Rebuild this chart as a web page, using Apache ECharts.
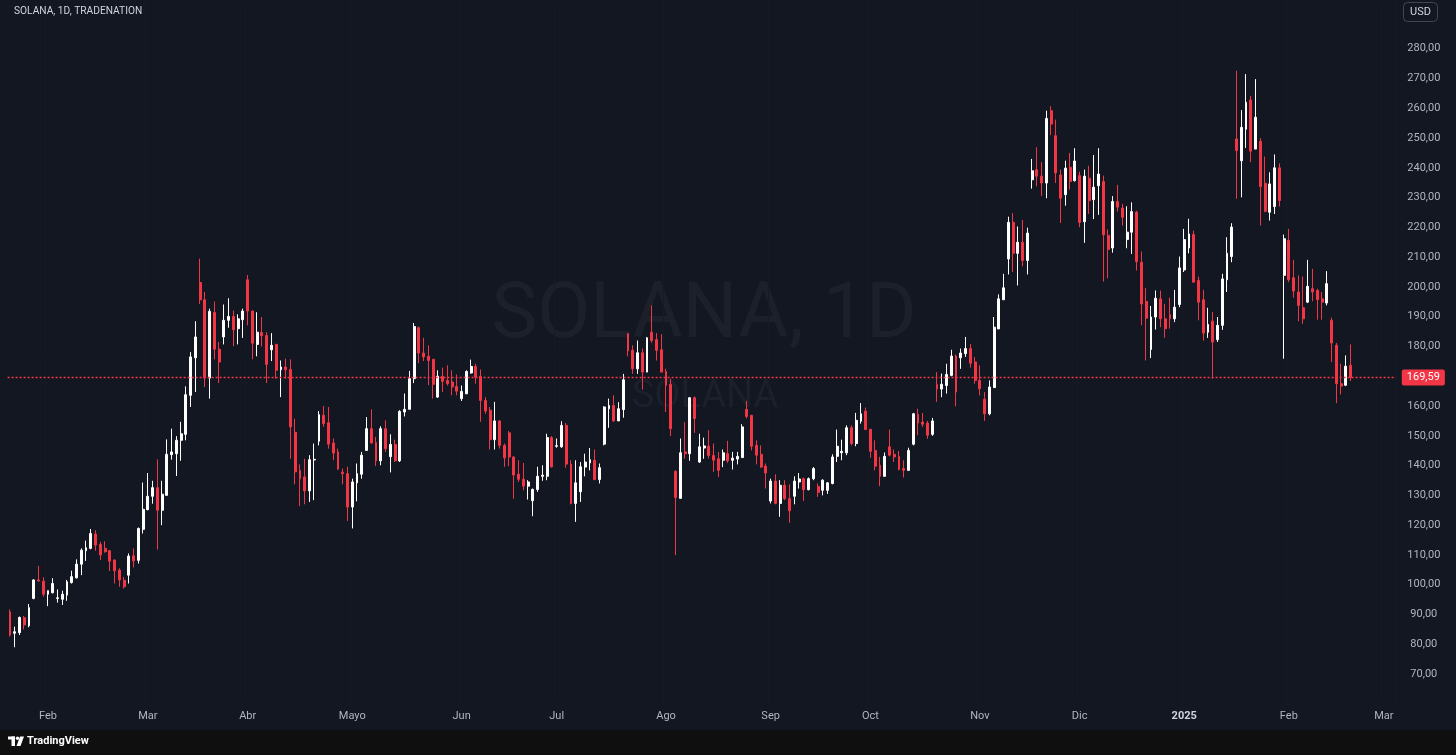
<!DOCTYPE html>
<html><head><meta charset="utf-8">
<script src="https://cdn.jsdelivr.net/npm/echarts/dist/echarts.min.js"></script>
<style>html,body{margin:0;padding:0;background:#131722;overflow:hidden}#c{width:1456px;height:755px}</style>
</head><body><div id="c"></div>
<script>
// ---- data (daily candles, weekdays only) ----
const startDate = '2024-01-22';
const closedDays = ['2025-01-01'];
const futureBars = 9;
const monthNames = ['Ene','Feb','Mar','Abr','Mayo','Jun','Jul','Ago','Sep','Oct','Nov','Dic'];
const priceTicks = [70,80,90,100,110,120,130,140,150,160,170,180,190,200,210,220,230,240,250,260,270,280];
const lastPrice = 169.59;

const opens = [90.9,83.7,83.9,88.9,86.2,95.4,101.6,101.2,96.8,97.3,
95.4,95.1,96.5,100.7,102.3,106.9,111.4,112.2,117.0,113.5,
112.2,111.4,108.3,104.9,101.5,103.2,109.7,108.2,118.6,125.2,
129.7,132.6,125.0,130.0,143.7,144.0,148.5,150.5,163.6,176.2,
201.5,195.7,169.4,191.4,179.1,183.2,188.8,190.1,186.0,189.0,
202.4,191.9,180.7,184.7,183.7,178.9,180.7,172.2,173.1,172.3,
151.2,138.4,136.2,131.5,141.9,148.2,156.9,154.4,147.6,144.6,
137.8,137.3,126.1,134.2,137.1,145.1,152.4,147.7,141.6,152.4,
143.0,147.1,141.6,158.0,158.9,169.2,186.3,177.8,176.7,175.7,
163.0,170.0,168.6,168.1,166.6,162.5,164.1,171.1,173.3,170.0,
161.9,158.6,148.7,155.0,146.8,151.0,142.9,137.1,135.4,133.1,
128.2,132.0,136.4,136.4,149.4,146.5,146.3,153.5,140.5,127.3,
131.2,139.5,140.9,141.8,135.3,147.2,159.1,160.2,155.0,158.8,
184.3,178.7,172.5,177.9,171.4,184.8,182.3,178.9,171.6,167.3,
138.1,129.0,144.6,144.0,162.8,141.2,145.9,146.5,143.4,142.3,
141.8,144.0,141.8,142.2,142.7,158.9,156.9,146.8,143.8,139.8,
128.1,134.8,127.3,133.4,128.9,129.7,134.5,135.6,131.9,135.6,
133.0,131.7,131.7,134.0,143.1,144.3,144.3,152.7,147.4,154.9,
158.3,152.2,145.1,140.1,136.4,146.3,143.8,143.1,139.0,138.4,
147.2,157.2,154.6,154.3,150.5,167.2,165.7,166.9,170.3,176.8,
176.2,177.6,179.3,174.8,168.6,162.3,157.4,166.2,185.9,195.7,
209.4,221.7,211.3,215.0,208.9,236.0,239.4,237.2,234.9,259.2,
250.8,237.6,231.0,240.2,235.7,237.4,221.9,236.5,229.3,234.0,
235.4,217.3,213.1,228.7,226.5,215.9,218.4,225.1,208.3,195.1,
179.0,189.9,196.0,189.3,190.7,189.3,194.1,205.7,213.1,217.6,
202.2,195.7,184.8,188.5,182.3,187.1,202.4,210.2,249.7,242.4,
253.0,262.8,246.3,248.9,234.8,225.1,227.0,240.0,203.9,215.6,
203.1,198.3,193.0,194.9,199.4,198.8,196.0,194.6,188.8,180.4,
167.5,167.0,173.7];

const closes = [83.1,84.2,89.0,86.5,92.3,101.6,101.3,96.8,98.0,100.4,
95.6,96.8,101.0,102.7,106.9,111.6,112.4,117.2,113.3,110.0,
111.1,107.9,104.7,101.6,99.3,109.6,108.0,118.9,125.3,129.7,
132.6,125.0,130.4,143.8,144.6,148.5,150.7,163.8,176.5,183.2,
195.7,169.4,191.8,179.1,174.8,188.8,190.1,185.6,189.3,191.9,
191.9,181.1,184.8,183.6,174.0,180.4,172.0,173.1,172.2,153.0,
137.9,135.6,131.5,142.0,142.1,157.1,154.1,147.2,144.2,138.8,
137.3,126.1,134.5,137.3,143.5,152.4,147.6,141.6,152.4,145.7,
147.1,141.6,158.2,158.9,169.2,186.7,177.8,176.5,175.3,167.3,
170.0,168.3,167.5,166.4,165.0,164.9,171.6,173.3,169.7,161.9,
158.3,148.7,155.0,146.8,142.6,142.9,136.8,135.4,133.1,134.5,
132.0,136.4,136.8,149.4,139.6,146.7,153.5,140.5,127.3,134.2,
139.6,141.2,142.0,135.3,139.3,159.7,160.2,155.0,159.1,168.8,
178.5,172.5,177.9,171.4,182.9,182.0,178.7,171.4,166.9,152.4,
129.3,144.3,144.0,162.8,155.8,146.3,146.6,143.4,141.8,138.4,
144.3,141.6,142.5,143.1,153.0,156.5,146.5,143.5,139.5,137.5,
134.8,127.3,133.4,128.9,124.8,134.8,135.5,131.9,135.6,139.0,
131.0,135.1,134.2,142.9,146.5,144.8,152.7,147.4,155.2,157.4,
152.1,144.8,139.8,136.4,143.1,143.5,142.9,138.7,138.4,145.1,
157.4,154.3,153.9,150.2,155.0,165.8,167.3,170.6,176.8,164.7,
177.8,179.3,174.4,168.6,165.8,157.4,166.4,186.5,196.0,199.7,
221.7,211.3,215.0,208.9,218.1,239.0,237.2,234.9,256.6,254.7,
238.3,229.8,239.9,235.4,242.3,221.7,237.2,229.0,233.5,237.9,
217.5,212.6,228.7,226.8,223.4,218.4,225.3,208.5,194.3,189.5,
189.9,196.2,189.3,186.0,189.3,193.2,206.4,215.9,217.8,201.6,
194.9,184.5,187.4,181.5,187.1,202.7,211.3,220.1,245.8,253.6,
262.0,245.6,257.0,233.7,225.4,234.6,240.0,229.0,216.2,202.4,
198.6,193.8,189.3,200.2,198.3,195.7,194.9,201.1,181.2,167.5,
166.7,173.4,169.59];

const lows = [82.6,79.0,83.1,85.0,85.7,95.1,101.0,96.0,92.8,97.1,
94.0,93.2,94.6,100.4,102.1,103.2,108.0,111.9,111.4,108.3,
110.7,104.6,100.4,99.3,98.7,100.4,105.8,107.1,117.2,125.0,
127.2,111.8,120.0,130.0,142.0,136.5,141.6,148.5,159.7,164.7,
194.3,166.4,162.5,175.7,167.7,180.7,186.3,180.1,180.7,182.9,
187.1,175.7,176.7,180.0,167.7,175.1,169.2,163.0,169.2,142.3,
133.7,126.4,127.0,127.8,128.4,146.8,153.0,145.7,141.8,138.6,
133.7,121.4,118.9,128.0,135.6,145.1,147.4,139.9,140.1,144.6,
137.7,141.2,141.2,156.5,158.9,167.7,174.4,175.1,167.0,162.5,
162.8,164.7,166.9,163.6,163.6,161.7,164.1,170.9,167.5,154.7,
157.4,145.4,145.4,145.7,139.6,139.8,128.9,134.5,131.7,128.6,
123.0,131.2,134.9,135.1,139.3,146.0,146.0,139.3,127.0,121.1,
127.8,136.4,138.4,135.1,134.0,146.8,152.7,154.7,155.0,156.1,
176.7,170.8,170.8,165.5,171.4,181.2,175.3,171.4,158.0,149.9,
109.9,129.0,142.3,141.6,151.0,140.9,142.3,142.4,137.9,136.2,
139.5,140.9,138.7,140.4,142.7,155.8,145.1,140.4,139.3,132.3,
127.3,127.0,122.8,128.4,120.8,127.0,132.3,128.1,131.7,135.1,
129.5,130.0,130.5,133.7,141.2,141.8,143.5,146.8,146.5,154.1,
152.1,142.6,138.4,133.1,136.2,143.1,141.2,138.4,136.0,138.4,
146.8,150.2,153.0,149.0,150.0,161.4,163.0,164.2,170.0,159.9,
172.5,176.5,172.9,167.5,163.6,155.0,156.9,166.2,185.9,195.7,
204.2,205.0,200.5,206.9,204.2,233.0,233.8,230.5,229.8,251.0,
234.9,221.5,227.3,232.7,235.4,220.1,214.8,224.5,222.8,224.2,
201.8,202.9,211.5,225.3,220.6,213.0,211.1,205.5,187.1,175.3,
176.1,185.7,186.5,182.9,186.0,188.2,193.2,205.0,211.3,201.6,
188.8,182.0,182.9,169.2,181.5,185.6,198.3,208.3,229.6,230.1,
246.7,241.9,246.3,220.6,225.1,222.3,224.5,227.0,175.9,201.6,
196.4,188.5,187.6,194.6,195.2,189.0,189.0,193.8,174.8,161.0,
163.9,166.7,168.4];

const highs = [91.7,85.9,89.3,89.5,93.5,101.8,106.3,102.5,98.0,102.2,
98.4,98.0,101.6,104.7,108.5,112.2,114.8,118.7,118.3,114.4,
114.6,111.6,108.5,105.5,102.6,110.5,112.2,119.2,134.3,137.5,
134.9,142.1,134.9,148.8,152.4,149.9,154.7,166.6,178.1,188.5,
209.5,198.3,192.7,195.1,181.5,194.1,196.2,192.1,190.8,192.7,
204.0,192.1,191.5,189.9,184.8,184.5,180.9,175.3,175.9,175.7,
155.8,140.4,142.3,143.5,147.4,158.3,160.0,159.7,149.1,145.7,
139.0,139.6,135.6,140.7,144.6,156.3,158.9,149.6,153.2,155.2,
150.5,148.7,158.6,164.2,171.8,187.9,186.7,182.9,180.4,175.7,
172.0,172.9,173.7,172.0,170.6,166.9,172.0,175.6,174.2,172.3,
163.0,159.7,161.4,155.2,147.4,151.6,143.1,141.8,140.9,135.1,
132.3,139.6,140.1,150.7,149.9,149.1,154.9,154.3,141.8,141.8,
141.2,144.0,145.9,145.4,140.7,159.9,162.5,163.6,161.3,170.8,
184.5,180.4,182.0,179.3,183.2,193.8,184.5,184.1,172.5,169.2,
138.4,149.1,154.6,163.0,163.2,150.7,149.4,151.9,147.4,144.6,
145.4,148.3,144.6,144.6,153.9,161.7,156.9,148.5,146.8,140.7,
135.6,137.1,135.1,135.1,133.7,136.4,137.5,136.0,136.0,139.5,
134.0,135.4,134.5,143.8,152.1,148.7,153.5,153.5,157.7,161.0,
159.5,152.2,148.5,142.9,144.4,152.1,145.4,144.9,141.8,146.0,
157.7,159.1,157.7,155.0,156.0,171.4,170.9,174.2,178.9,177.3,
179.3,183.2,180.9,176.5,173.7,164.7,168.6,189.9,197.5,204.4,
223.6,224.8,220.3,222.5,219.9,243.0,246.9,241.9,259.2,260.7,
256.2,239.4,242.4,245.0,246.6,238.7,239.4,240.7,244.3,246.6,
237.4,219.3,230.5,234.3,227.9,227.1,228.4,225.6,211.9,199.6,
193.6,198.8,198.8,194.3,196.4,199.0,210.2,219.5,222.9,218.9,
203.5,199.0,193.0,191.6,189.9,204.4,216.7,221.4,272.6,259.4,
271.5,264.2,269.8,250.0,243.8,238.5,244.5,241.5,217.6,219.5,
209.1,203.9,203.5,209.1,206.1,199.4,198.3,205.3,189.7,181.2,
174.2,177.0,180.7];

// ---- build categories (trading weekdays) ----
const N = opens.length;
const dates = [];
(function(){
  const p = startDate.split('-').map(Number);
  const d = new Date(Date.UTC(p[0], p[1]-1, p[2]));
  while (dates.length < N + futureBars) {
    const wd = d.getUTCDay();
    const s = d.toISOString().slice(0,10);
    if (wd !== 0 && wd !== 6 && closedDays.indexOf(s) < 0) dates.push(s);
    d.setUTCDate(d.getUTCDate() + 1);
  }
})();
const candleData = opens.map((o,i) => [o, closes[i], lows[i], highs[i]]);
function isMonthStart(i){ return i > 0 && dates[i].slice(0,7) !== dates[i-1].slice(0,7); }
const fmt = v => v.toFixed(2).replace('.', ',');

const UI = 'Roboto, "Noto Sans", "DejaVu Sans", sans-serif';
const chart = echarts.init(document.getElementById('c'), null, {renderer:'canvas'});
chart.setOption({
  animation: false,
  backgroundColor: '#131722',
  textStyle: {fontFamily: UI},
  grid: {left: 7.6, right: 60.2, top: 1.1, bottom: 51.2, containLabel: false},
  xAxis: {
    type: 'category', data: dates, boundaryGap: true,
    axisLine: {show: false}, axisTick: {show: false},
    axisLabel: {
      interval: (i) => isMonthStart(i), color: '#b2b5be', fontSize: 11, margin: 7, fontFamily: UI,
      formatter: (v) => { const m = +v.slice(5,7); return m === 1 ? '{y|' + v.slice(0,4) + '}' : monthNames[m-1]; },
      rich: {y: {fontWeight: 'bold', color: '#d1d4dc', fontSize: 11, fontFamily: UI}}
    },
    splitLine: {show: true, interval: (i) => isMonthStart(i), lineStyle: {color: '#161a25', width: 1}}
  },
  yAxis: {
    type: 'value', position: 'right', min: 60, max: 296, interval: 10,
    axisLine: {show: false}, axisTick: {show: false},
    axisLabel: {color: '#b2b5be', fontSize: 11, margin: 28, align: 'center', fontFamily: UI,
      formatter: (v) => priceTicks.indexOf(Math.round(v)) >= 0 && Math.abs(v - Math.round(v)) < 1e-6 ? fmt(v) : ''},
    splitLine: {show: false}
  },
  graphic: [
    {type: 'text', z: -10, silent: true, style: {x: 704, y: 318, text: 'SOLANA, 1D', fill: '#1c202b', font: '77px ' + UI, textAlign: 'center', textVerticalAlign: 'middle'}},
    {type: 'text', z: -10, silent: true, style: {x: 705, y: 397, text: 'SOLANA', fill: '#1c202b', font: '38px ' + UI, textAlign: 'center', textVerticalAlign: 'middle'}},
    {type: 'text', z: 10, silent: true, style: {x: 14, y: 11, text: 'SOLANA, 1D, TRADENATION', fill: '#d1d4dc', font: '10.2px ' + UI, textVerticalAlign: 'middle'}},
    {type: 'rect', z: 10, silent: true, shape: {x: 1403.5, y: 2.5, width: 34, height: 19, r: 4}, style: {fill: '#131722', stroke: '#434651', lineWidth: 1}},
    {type: 'text', z: 11, silent: true, style: {x: 1420.5, y: 12, text: 'USD', fill: '#d1d4dc', font: '11px ' + UI, textAlign: 'center', textVerticalAlign: 'middle'}},
    {type: 'rect', z: 10, silent: true, shape: {x: 0, y: 730, width: 1456, height: 25}, style: {fill: '#0f0f0f'}},
    {type: 'rect', z: 11, silent: true, shape: {x: 8, y: 736.5, width: 7, height: 3}, style: {fill: '#ffffff'}},
    {type: 'rect', z: 11, silent: true, shape: {x: 11.5, y: 736.5, width: 3.5, height: 9.5}, style: {fill: '#ffffff'}},
    {type: 'circle', z: 11, silent: true, shape: {cx: 17.5, cy: 738.3, r: 1.7}, style: {fill: '#ffffff'}},
    {type: 'polygon', z: 11, silent: true, shape: {points: [[20, 736.5], [24, 736.5], [20.5, 746], [16.5, 746]]}, style: {fill: '#ffffff'}},
    {type: 'text', z: 11, silent: true, style: {x: 27, y: 741.5, text: 'TradingView', fill: '#ffffff', font: 'bold 11px ' + UI, textVerticalAlign: 'middle'}}
  ],
  series: [{
    type: 'candlestick',
    data: candleData,
    barWidth: 2.4,
    itemStyle: {color: '#ffffff', color0: '#f23645', borderColor: '#ffffff', borderColor0: '#f23645', borderWidth: 1},
    markLine: {
      symbol: ['none', 'none'], silent: true, animation: false,
      data: [{yAxis: lastPrice, lineStyle: {color: '#f23645', type: [2, 2], width: 1.4, opacity: 1}}],
      lineStyle: {color: '#f23645', type: [2, 2], width: 1.4, opacity: 1},
      emphasis: {disabled: true},
      label: {show: true, position: 'end', formatter: fmt(lastPrice), color: '#ffffff', backgroundColor: '#f23645',
        padding: [3, 5, 2, 5], borderRadius: 2, fontSize: 11, distance: 6, fontFamily: UI}
    }
  }]
});
</script></body></html>
